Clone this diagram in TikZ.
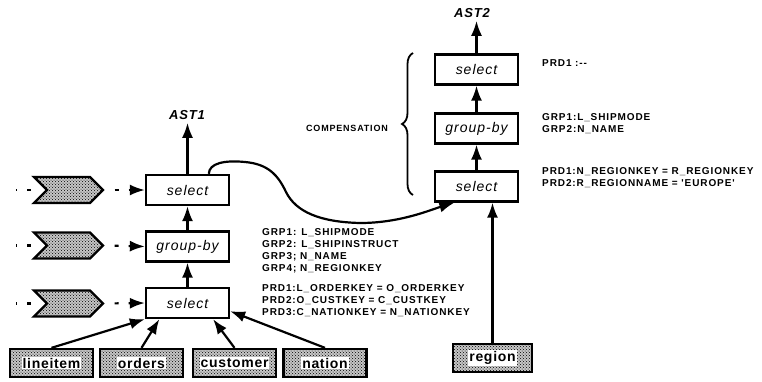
\documentclass[tikz,border=0pt]{standalone}
\usepackage{fontspec}
\setmainfont{Liberation Sans}
\newfontfamily\opfont[LetterSpace=7]{Liberation Sans}
\newfontfamily\tagfont[LetterSpace=9]{Liberation Sans}
\newfontfamily\relfont[LetterSpace=5]{Liberation Sans}
\newfontfamily\astfont[LetterSpace=6]{Liberation Sans}
\usetikzlibrary{arrows.meta,patterns,shapes.symbols,calc,decorations.pathreplacing}
% relation name on a white patch inside the stippled box
\newcommand\reltext[1]{{\setlength\fboxsep{1pt}\colorbox{white}{#1}}}

\begin{document}
\begin{tikzpicture}[x=1pt,y=-1pt,
  stipple/.style={preaction={fill=gray!45}, pattern=crosshatch dots},
  op/.style={draw, line width=2.3pt, fill=white, minimum width=83pt, minimum height=30pt,
    inner sep=0pt, font=\opfont\itshape\fontsize{14}{14}\selectfont},
  rel/.style={draw, line width=2.3pt, stipple, minimum width=83pt,
    minimum height=28pt, inner sep=0pt, font=\relfont\bfseries\fontsize{14}{14}\selectfont},
  feed/.style={signal, signal to=east, signal from=west, draw, line width=2.3pt,
    stipple, minimum width=69pt, minimum height=26pt, inner sep=0pt},
  flow/.style={line width=2.2pt, -{Latex[length=15pt,width=11pt]}},
  feedline/.style={line width=2.2pt, dash pattern=on 1pt off 10pt on 4pt off 40pt},
  feedarrow/.style={flow, dash pattern=on 0pt off 10pt on 4pt off 10pt on 60pt off 0pt},
  ast/.style={font=\astfont\bfseries\itshape\fontsize{13}{13}\selectfont, inner sep=3pt},
  tag/.style={font=\tagfont\bfseries\fontsize{10}{12}\selectfont, align=left,
    anchor=west, inner sep=0pt},
  bracetext/.style={font=\tagfont\bfseries\fontsize{9}{9}\selectfont, inner sep=0pt},
]
\useasboundingbox (0,0) rectangle (762,381);

% ---------- left plan: AST1 ----------
\node[op] (s1) at (187.5,190) {select};
\node[op] (g1) at (187.5,246.5) {group-by};
\node[op] (s0) at (187.5,303) {select};
\node[ast] (ast1) at (187,115) {AST1};

\draw[flow] (s1.north) -- (s1.north |- ast1.south);
\draw[flow] (g1.north) -- (s1.south);
\draw[flow] (s0.north) -- (g1.south);

% incoming streams
\node[feed] (f1) at (68.5,190) {};
\node[feed] (f2) at (68.5,245.5) {};
\node[feed] (f3) at (68.5,303.5) {};
\coordinate (t1) at (16,190);
\coordinate (t2) at (16,245.5);
\coordinate (t3) at (16,303.5);
\draw[feedline] (t1) -- (f1.west);
\draw[feedline] (t2) -- (f2.west);
\draw[feedline] (t3) -- (f3.west);
\draw[feedarrow] (f1.east) -- (s1.west);
\draw[feedarrow] (f2.east) -- (g1.west);
\draw[feedarrow] (f3.east) -- (s0.west);

% base relations
\node[rel] (li) at (51.5,363) {\reltext{lineitem}};
\node[rel] (or) at (141.5,363) {\reltext{orders}};
\node[rel] (cu) at (234.5,363) {\reltext{customer}};
\node[rel] (na) at (325,363) {\reltext{nation}};

\draw[flow] (li.north) -- (s0.south west);
\draw[flow] (or.north) -- ($(s0.south west)!0.17!(s0.south east)$);
\draw[flow] (cu.north) -- ($(s0.south west)!0.8!(s0.south east)$);
\draw[flow] (na.north) -- ($(s0.south east)+(0,-8)$);

% predicates and grouping columns of AST1
\node[tag] (grpL) at (262,251) {GRP1: L\_SHIPMODE\\GRP2: L\_SHIPINSTRUCT\\GRP3; N\_NAME\\GRP4; N\_REGIONKEY};
\node[tag] (prdL) at (262,300.5) {PRD1:L\_ORDERKEY = O\_ORDERKEY\\PRD2:O\_CUSTKEY = C\_CUSTKEY\\PRD3:C\_NATIONKEY = N\_NATIONKEY};

% ---------- right plan: AST2 ----------
\node[op] (s2t) at (476.5,69.5) {select};
\node[op] (g2) at (476.5,128.5) {group-by};
\node[op] (s2) at (476.5,186.5) {select};
\node[ast] (ast2) at (472,13) {AST2};

\draw[flow] (s2t.north) -- (s2t.north |- ast2.south);
\draw[flow] (g2.north) -- (s2t.south);
\draw[flow] (s2.north) -- (g2.south);

\node[rel, minimum width=79pt] (re) at (492.5,358) {\reltext{region}};
\draw[flow] (re.north) -- (re.north |- s2.south);

% AST1 feeds the lower select of AST2
\draw[flow] ($(s1.north west)!0.75!(s1.north east)$)
  .. controls (209,163) and (225,160) .. (245,162)
  .. controls (268,164) and (278,175) .. (286,192)
  .. controls (296,212) and (320,222) .. (360,223)
  .. controls (400,223) and (430,210) .. ($(s2.south west)!0.24!(s2.south east)$);

% compensation brace
\draw[line width=1.8pt, decorate, decoration={brace, amplitude=11pt}] (413,195) -- (413,53);
\node[bracetext] (comp) at (347,128) {COMPENSATION};

\node[tag] (prdT) at (542,63) {PRD1 :-{}-};
\node[tag] (grpR) at (542,123.5) {GRP1:L\_SHIPMODE\\GRP2:N\_NAME};
\node[tag] (prdR) at (542,177.5) {PRD1:N\_REGIONKEY = R\_REGIONKEY\\PRD2:R\_REGIONNAME = 'EUROPE'};

\end{tikzpicture}
\end{document}
